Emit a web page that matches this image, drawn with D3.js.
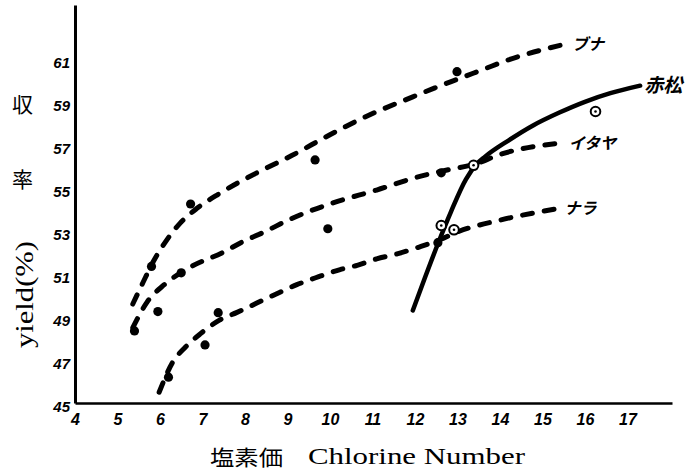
<!DOCTYPE html>
<html><head><meta charset="utf-8">
<script src="https://cdn.jsdelivr.net/npm/d3@7"></script>
<style>body{margin:0;background:#fff}svg{display:block}</style>
</head><body>
<svg id="c" width="699" height="470"></svg>
<script>
// ---- data ----
const xTicks = [4,5,6,7,8,9,10,11,12,13,14,15,16,17];
const yTicks = [45,47,49,51,53,55,57,59,61];
const seriesNames = ["ブナ","イタヤ","ナラ","赤松"];
const bunaCurve = [[5.36,49.6],[5.6,50.6],[5.85,51.6],[6.15,52.55],[6.47,53.35],[6.87,54.05],[7.41,54.75],[8.28,55.7],[9.1,56.5],[10.0,57.47],[10.94,58.4],[11.95,59.23],[12.47,59.65],[13.0,60.05],[13.6,60.5],[14.2,60.95],[15.58,61.7]];
const itayaCurve = [[5.36,48.5],[5.7,49.7],[6.1,50.5],[6.7,51.3],[7.48,52.0],[7.95,52.5],[8.4,52.9],[9.13,53.6],[10.07,54.3],[11.1,54.9],[12.05,55.5],[12.8,55.85],[13.4,56.1],[14.0,56.55],[15.5,57.1]];
const naraCurve = [[5.98,45.5],[6.3,46.9],[6.6,47.6],[6.94,48.2],[7.4,48.85],[7.8,49.2],[8.66,50.0],[9.22,50.5],[9.72,50.86],[10.24,51.2],[10.64,51.4],[11.1,51.7],[11.58,51.93],[12.1,52.25],[12.6,52.6],[13.0,52.95],[14.0,53.5],[15.4,54.05]];
const akaCurve = [[11.95,49.3],[12.25,50.9],[12.55,52.45],[12.85,53.9],[13.2,55.4],[13.45,56.1],[13.65,56.45],[14.2,57.2],[14.78,57.9],[15.4,58.5],[16.0,59.0],[16.6,59.4],[17.3,59.75]];
const bunaDots = [[5.8,51.35],[6.72,54.25],[9.65,56.3],[12.99,60.4]];
const itayaDots = [[5.4,48.35],[5.95,49.25],[6.5,51.05],[9.95,53.1],[12.62,55.7]];
const naraDots = [[6.2,46.2],[7.06,47.7],[7.37,49.2],[12.54,52.45]];
const ringDots = [[13.38,56.05],[12.62,53.25],[12.92,53.05],[16.25,58.55]];

const svg = d3.select("#c");
const x = d3.scaleLinear().domain([4,18.05]).range([75,672]);
const y = d3.scaleLinear().domain([45,63.5]).range([403,5]);

// axes
const xAxis = d3.axisBottom(x).tickValues(xTicks).tickSize(0).tickFormat(d3.format("d"));
const gx = svg.append("g").attr("transform","translate(0,403)").call(xAxis);
gx.select(".domain").attr("stroke","#000").attr("stroke-width",2.5);
gx.selectAll("text").attr("dy","1.2em").attr("font-family","Liberation Sans, sans-serif")
  .attr("font-style","italic").attr("font-weight","bold").attr("font-size",16).attr("fill","#000");

const yAxis = d3.axisLeft(y).tickValues(yTicks).tickSize(0).tickFormat(d3.format("d"));
const gy = svg.append("g").attr("transform","translate(75,0)").call(yAxis);
gy.select(".domain").attr("stroke","#000").attr("stroke-width",3);
gy.selectAll("text").attr("x",-5).attr("dy","0.55em").attr("font-family","Liberation Sans, sans-serif")
  .attr("font-style","italic").attr("font-weight","bold").attr("font-size",15).attr("fill","#000");

// curves
const line = d3.line().x(d=>x(d[0])).y(d=>y(d[1])).curve(d3.curveMonotoneX);
[bunaCurve,itayaCurve,naraCurve].forEach(c=>{
  svg.append("path").attr("d",line(c)).attr("fill","none").attr("stroke","#000")
    .attr("stroke-width",5).attr("stroke-linecap","round").attr("stroke-dasharray","10,12");
});
svg.append("path").attr("d",line(akaCurve)).attr("fill","none").attr("stroke","#000")
  .attr("stroke-width",4.5).attr("stroke-linecap","round");

// dots
const filled = bunaDots.concat(itayaDots, naraDots);
svg.selectAll("circle.f").data(filled).join("circle").attr("class","f")
  .attr("cx",d=>x(d[0])).attr("cy",d=>y(d[1])).attr("r",4.6).attr("fill","#000");
svg.selectAll("circle.r").data(ringDots).join("circle").attr("class","r")
  .attr("cx",d=>x(d[0])).attr("cy",d=>y(d[1])).attr("r",4.8).attr("fill","#fff")
  .attr("stroke","#000").attr("stroke-width",2);
svg.selectAll("circle.rc").data(ringDots).join("circle").attr("class","rc")
  .attr("cx",d=>x(d[0])).attr("cy",d=>y(d[1])).attr("r",1.3).attr("fill","#000");

// series labels
const ends = [bunaCurve, itayaCurve, naraCurve, akaCurve].map(c=>c[c.length-1]);
seriesNames.forEach((n,i)=>{
  const p = ends[i];
  svg.append("text").attr("x",x(p[0])+(i===3?4:5)).attr("y",y(p[1])+6)
    .attr("font-family","Noto Sans CJK JP").attr("font-weight","bold").attr("font-size",i===3?19:16)
    .attr("fill","#000").attr("font-style","italic").text(n);
});

// axis titles
svg.append("text").attr("x",210).attr("y",465).attr("font-family","Noto Sans CJK JP")
  .attr("font-size",21).attr("textLength",73).attr("lengthAdjust","spacingAndGlyphs").text("塩素価");
svg.append("text").attr("x",308).attr("y",464).attr("font-family","Liberation Serif, serif")
  .attr("font-size",23).attr("textLength",217).attr("lengthAdjust","spacingAndGlyphs").text("Chlorine Number");
svg.append("text").attr("x",12).attr("y",112).attr("font-family","Noto Sans CJK JP")
  .attr("font-size",21).text("収");
svg.append("text").attr("x",12).attr("y",187).attr("font-family","Noto Sans CJK JP")
  .attr("font-size",21).text("率");
svg.append("text").attr("transform","translate(33,348) rotate(-90)").attr("font-family","Liberation Serif, serif")
  .attr("font-size",26).attr("textLength",107).attr("lengthAdjust","spacingAndGlyphs").text("yield(%)");
</script>
</body></html>
